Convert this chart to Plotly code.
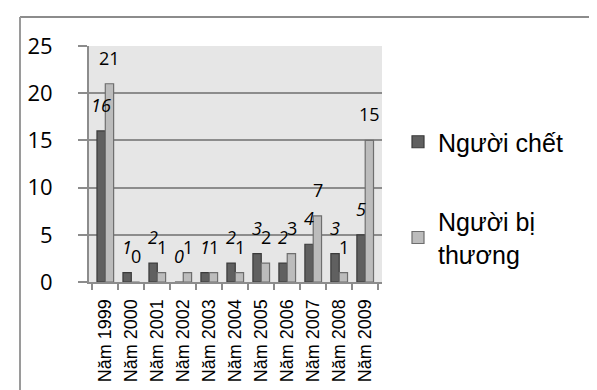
import plotly.graph_objects as go

categories = ["Năm 1999", "Năm 2000", "Năm 2001", "Năm 2002", "Năm 2003", "Năm 2004",
              "Năm 2005", "Năm 2006", "Năm 2007", "Năm 2008", "Năm 2009"]
deaths = [16, 1, 2, 0, 1, 2, 3, 2, 4, 3, 5]
injured = [21, 0, 1, 1, 1, 1, 2, 3, 7, 1, 15]
y_ticks = [0, 5, 10, 15, 20, 25]

W, H = 597, 390
L, R, T, B = 81, 223, 38, 116
pw, ph = W - L - R, H - T - B

def px_x(p):
    return (p - L) / pw

def px_y(p):
    return (H - B - p) / ph

fig = go.Figure()
fig.add_trace(go.Bar(
    x=categories, y=deaths, name="Người chết",
    marker=dict(color="#606060", line=dict(color="#3a3a3a", width=1.2)),
    legendgroup="a",
))
fig.add_trace(go.Bar(
    x=categories, y=injured, name="Người bị<br>thương",
    marker=dict(color="#bcbcbc", line=dict(color="#6e6e6e", width=1.2)),
    legendgroup="b",
))

annotations = []
for c, d, i in zip(categories, deaths, injured):
    annotations.append(dict(x=c, y=d, xref="x", yref="y", text=f"<i>{d}</i>",
                            showarrow=False, xshift=-4.3, yshift=12, yanchor="bottom",
                            font=dict(family="Open Sans", size=18, color="#000")))
    annotations.append(dict(x=c, y=i, xref="x", yref="y", text=f"{i}",
                            showarrow=False, xshift=4.3, yshift=12, yanchor="bottom",
                            font=dict(family="Open Sans", size=18, color="#000")))

fig.update_layout(
    width=W, height=H, autosize=False,
    margin=dict(l=L, r=R, t=T, b=B, pad=0),
    paper_bgcolor="white", plot_bgcolor="#e6e6e6",
    barmode="group", bargap=0.36, bargroupgap=0,
    showlegend=True,
    legend=dict(x=px_x(390), y=px_y(111), xanchor="left", yanchor="top",
                font=dict(family="Liberation Sans", size=25, color="#000"),
                tracegroupgap=44, traceorder="grouped", bgcolor="rgba(0,0,0,0)"),
    annotations=annotations,
    shapes=[
        dict(type="line", xref="paper", yref="paper", x0=px_x(12), x1=px_x(596),
             y0=px_y(9), y1=px_y(9), line=dict(color="#8c8c8c", width=2)),
        dict(type="line", xref="paper", yref="paper", x0=px_x(12), x1=px_x(12),
             y0=px_y(9), y1=px_y(395), line=dict(color="#9a9a9a", width=2)),
        dict(type="line", xref="paper", yref="paper", x0=px_x(596), x1=px_x(596),
             y0=px_y(9), y1=px_y(395), line=dict(color="#cccccc", width=2)),
    ],
)
fig.update_xaxes(
    type="category", tickangle=-90,
    tickfont=dict(family="Liberation Sans", size=18, color="#000"),
    showline=True, linecolor="#8c8c8c", linewidth=2,
    ticks="outside", tickson="boundaries", ticklen=6, tickcolor="#8c8c8c", tickwidth=2,
    ticklabelstandoff=8, showgrid=False,
)
fig.update_yaxes(
    range=[0, 25], tickvals=y_ticks,
    tickfont=dict(family="Open Sans", size=22, color="#000"),
    showline=True, linecolor="#8c8c8c", linewidth=2,
    ticks="outside", ticklen=9, tickcolor="#8c8c8c", tickwidth=2,
    showgrid=True, gridcolor="#8c8c8c", gridwidth=2, zeroline=False,
    ticklabelstandoff=21,
)

fig.write_html("out.html")
